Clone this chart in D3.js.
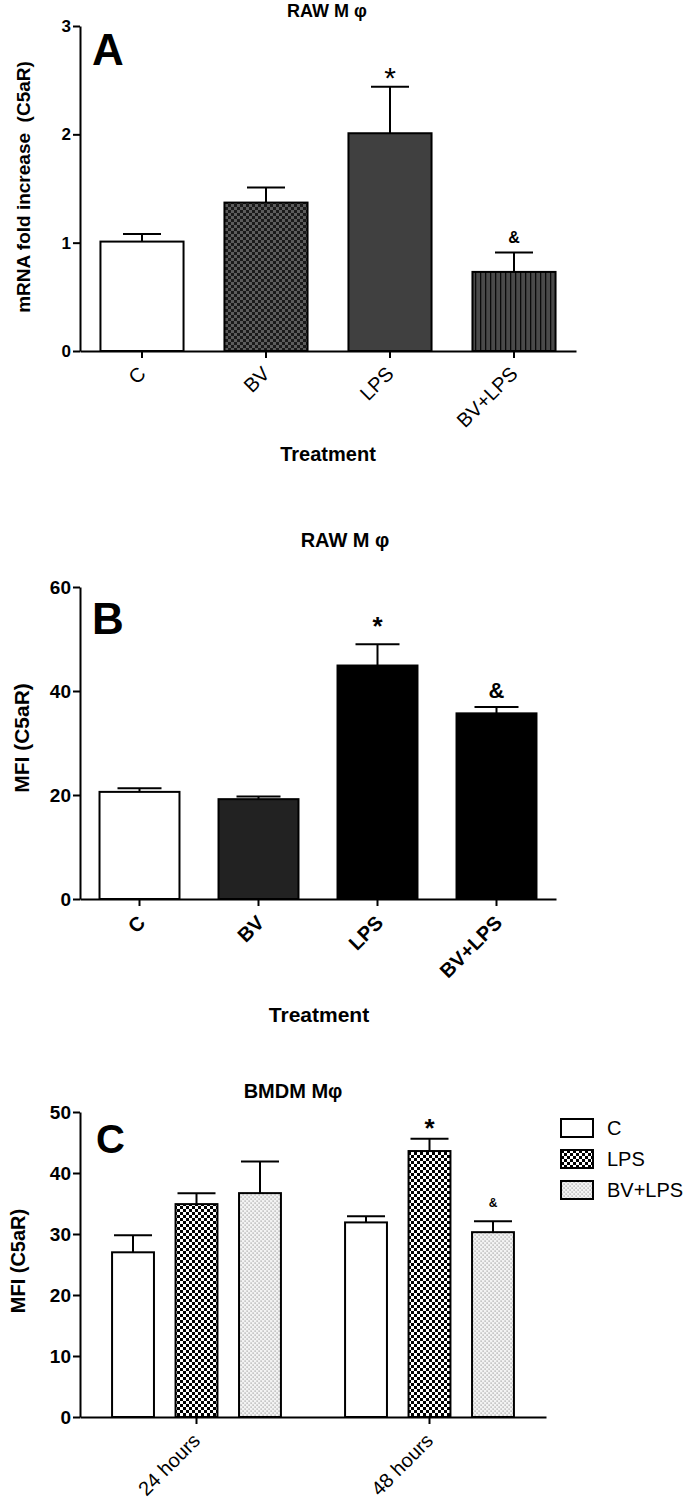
<!DOCTYPE html>
<html>
<head>
<meta charset="utf-8">
<script src="https://cdn.jsdelivr.net/npm/d3@7"></script>
<style>
  body { margin: 0; background: #fff; }
  svg { display: block; font-family: "Liberation Sans", Arial, sans-serif; }
  .domain, .tick line { stroke: #000; stroke-width: 2; }
</style>
</head>
<body>
<svg id="chart"></svg>
<script>
// DATA
const treatments = ["C", "BV", "LPS", "BV+LPS"];
const mrnaMean = [1.01, 1.37, 2.01, 0.73];
const mrnaSem = [0.07, 0.14, 0.43, 0.18];
const mrnaTicks = [0, 1, 2, 3];

const mfiMean = [20.6, 19.2, 44.9, 35.7];
const mfiSem = [0.7, 0.5, 4.1, 1.2];
const mfiTicks = [0, 20, 40, 60];

const timepoints = ["24 hours", "48 hours"];
const bmdmGroups = ["C", "LPS", "BV+LPS"];
const bmdm24Mean = [27.0, 34.9, 36.7];
const bmdm24Sem = [2.8, 1.8, 5.2];
const bmdm48Mean = [31.9, 43.6, 30.3];
const bmdm48Sem = [1.0, 2.0, 1.8];
const bmdmTicks = [0, 10, 20, 30, 40, 50];

// SET VARIABLES
const width = 689, height = 1508;
const svg = d3.select('#chart').attr('width', width).attr('height', height);
const defs = svg.append('defs');

// patterns
const pCheckDark = defs.append('pattern').attr('id', 'checkDark')
  .attr('width', 6).attr('height', 6).attr('patternUnits', 'userSpaceOnUse');
pCheckDark.append('rect').attr('width', 6).attr('height', 6).attr('fill', '#5c5c5c');
pCheckDark.append('rect').attr('width', 3).attr('height', 3).attr('fill', '#1a1a1a');
pCheckDark.append('rect').attr('x', 3).attr('y', 3).attr('width', 3).attr('height', 3).attr('fill', '#1a1a1a');

const pStripe = defs.append('pattern').attr('id', 'stripe')
  .attr('width', 5).attr('height', 5).attr('patternUnits', 'userSpaceOnUse');
pStripe.append('rect').attr('width', 5).attr('height', 5).attr('fill', '#4a4a4a');
pStripe.append('rect').attr('width', 1.3).attr('height', 5).attr('fill', '#0a0a0a');

const pCheck = defs.append('pattern').attr('id', 'checkBW')
  .attr('width', 6).attr('height', 6).attr('patternUnits', 'userSpaceOnUse');
pCheck.append('rect').attr('width', 6).attr('height', 6).attr('fill', '#fff');
pCheck.append('rect').attr('width', 3).attr('height', 3).attr('fill', '#000');
pCheck.append('rect').attr('x', 3).attr('y', 3).attr('width', 3).attr('height', 3).attr('fill', '#000');

const pDots = defs.append('pattern').attr('id', 'dots')
  .attr('width', 4).attr('height', 4).attr('patternUnits', 'userSpaceOnUse');
pDots.append('rect').attr('width', 4).attr('height', 4).attr('fill', '#f3f3f3');
pDots.append('rect').attr('x', 0.5).attr('y', 0.5).attr('width', 1.2).attr('height', 1.2).attr('fill', '#9a9a9a');
pDots.append('rect').attr('x', 2.5).attr('y', 2.5).attr('width', 1.2).attr('height', 1.2).attr('fill', '#9a9a9a');

// helper: y axis
function drawYAxis(y, ticks, fontSize) {
  const g = svg.append('g').attr('transform', 'translate(80,0)')
    .call(d3.axisLeft(y).tickValues(ticks).tickFormat(d3.format('d')).tickSize(7).tickSizeOuter(0).tickPadding(2));
  g.selectAll('text').attr('font-size', fontSize).attr('font-weight', 'bold')
    .attr('fill', '#000').attr('font-family', '"Liberation Sans", Arial, sans-serif');
  return g;
}
function drawXAxis(x, y0, fontSize, weight, dx, dy) {
  const g = svg.append('g').attr('transform', `translate(0,${y0})`)
    .call(d3.axisBottom(x).tickSize(7).tickSizeOuter(0));
  g.selectAll('text')
    .attr('font-size', fontSize).attr('font-weight', weight).attr('fill', '#000')
    .attr('font-family', '"Liberation Sans", Arial, sans-serif')
    .attr('text-anchor', 'end').attr('dy', '0.35em')
    .attr('transform', `translate(${dx},${dy}) rotate(-45)`)
    .attr('y', 0).attr('x', 0);
  return g;
}
function errBar(cx, yMean, yTop, capW, sw) {
  svg.append('line').attr('x1', cx).attr('x2', cx).attr('y1', yMean).attr('y2', yTop)
    .attr('stroke', '#000').attr('stroke-width', sw);
  svg.append('line').attr('x1', cx - capW / 2).attr('x2', cx + capW / 2).attr('y1', yTop).attr('y2', yTop)
    .attr('stroke', '#000').attr('stroke-width', sw);
}
function addText(x, y, txt, size, weight, anchor) {
  return svg.append('text').attr('x', x).attr('y', y).text(txt)
    .attr('font-size', size).attr('font-weight', weight || 'normal')
    .attr('text-anchor', anchor || 'middle').attr('fill', '#000');
}
function yLabel(x, y, txt, size) {
  svg.append('text').attr('transform', `translate(${x},${y}) rotate(-90)`)
    .attr('text-anchor', 'middle').attr('dominant-baseline', 'central')
    .attr('font-size', size).attr('font-weight', 'bold').text(txt);
}

// PANEL A
const yA = d3.scaleLinear().domain([0, 3]).range([351, 26]);
const xA = d3.scaleBand().domain(treatments).range([80, 576]).paddingInner(0.33).paddingOuter(0.165);
const fillA = ['#fff', 'url(#checkDark)', '#404040', 'url(#stripe)'];

treatments.forEach((t, i) => {
  const cx = xA(t) + xA.bandwidth() / 2;
  errBar(cx, yA(mrnaMean[i]), yA(mrnaMean[i] + mrnaSem[i]), 38, 2);
});
svg.append('g').selectAll('rect').data(treatments).enter().append('rect')
  .attr('x', d => xA(d)).attr('width', xA.bandwidth())
  .attr('y', (d, i) => yA(mrnaMean[i])).attr('height', (d, i) => yA(0) - yA(mrnaMean[i]))
  .attr('fill', (d, i) => fillA[i]).attr('stroke', '#000').attr('stroke-width', 2);
drawXAxis(xA, yA(0), 20, 'normal', 0, 19);
drawYAxis(yA, mrnaTicks, 17);

addText(327, 17, 'RAW M φ', 18, 'bold');
addText(92, 65, 'A', 44, 'bold', 'start');
yLabel(23, 187, 'mRNA fold increase\u00a0\u00a0(C5aR)', 19);
addText(328, 461, 'Treatment', 20, 'bold');
addText(xA('LPS') + xA.bandwidth() / 2, yA(mrnaMean[2] + mrnaSem[2]) + 1, '*', 30);
addText(xA('BV+LPS') + xA.bandwidth() / 2, yA(mrnaMean[3] + mrnaSem[3]) - 9, '&', 16, 'bold');

// PANEL B
const yB = d3.scaleLinear().domain([0, 60]).range([899, 587]);
const xB = d3.scaleBand().domain(treatments).range([80, 556]).paddingInner(0.328).paddingOuter(0.164);
const fillB = ['#fff', '#222', '#000', '#000'];

treatments.forEach((t, i) => {
  const cx = xB(t) + xB.bandwidth() / 2;
  errBar(cx, yB(mfiMean[i]), yB(mfiMean[i] + mfiSem[i]), 44, 2);
});
svg.append('g').selectAll('rect').data(treatments).enter().append('rect')
  .attr('x', d => xB(d)).attr('width', xB.bandwidth())
  .attr('y', (d, i) => yB(mfiMean[i])).attr('height', (d, i) => yB(0) - yB(mfiMean[i]))
  .attr('fill', (d, i) => fillB[i]).attr('stroke', '#000').attr('stroke-width', 2);
drawXAxis(xB, yB(0), 20, 'bold', 2, 20);
drawYAxis(yB, mfiTicks, 19);

addText(345, 547, 'RAW M φ', 20, 'bold');
addText(92, 634, 'B', 44, 'bold', 'start');
yLabel(21, 738, 'MFI (C5aR)', 21);
addText(319, 1022, 'Treatment', 21, 'bold');
addText(xB('LPS') + xB.bandwidth() / 2, yB(mfiMean[2] + mfiSem[2]) - 9, '*', 26, 'bold');
addText(xB('BV+LPS') + xB.bandwidth() / 2, yB(mfiMean[3] + mfiSem[3]) - 9, '&', 22, 'bold');

// PANEL C
const yC = d3.scaleLinear().domain([0, 50]).range([1417, 1112]);
const x0 = d3.scaleBand().domain(timepoints).range([80, 546]);
const x1 = d3.scaleBand().domain(bmdmGroups).range([0, x0.bandwidth()]).paddingInner(0.34).paddingOuter(0.505);
const fillC = ['#fff', 'url(#checkBW)', 'url(#dots)'];
const bmdmMean = [bmdm24Mean, bmdm48Mean];
const bmdmSem = [bmdm24Sem, bmdm48Sem];

const cells = [];
timepoints.forEach((tp, gi) => {
  bmdmGroups.forEach((g, si) => {
    cells.push({ tp, g, si, mean: bmdmMean[gi][si], sem: bmdmSem[gi][si] });
  });
});
cells.forEach(d => {
  const cx = x0(d.tp) + x1(d.g) + x1.bandwidth() / 2;
  errBar(cx, yC(d.mean), yC(d.mean + d.sem), 38, 2);
});
svg.append('g').selectAll('rect').data(cells).enter().append('rect')
  .attr('x', d => x0(d.tp) + x1(d.g)).attr('width', x1.bandwidth())
  .attr('y', d => yC(d.mean)).attr('height', d => yC(0) - yC(d.mean))
  .attr('fill', d => fillC[d.si]).attr('stroke', '#000').attr('stroke-width', 2);
drawXAxis(x0, yC(0), 20, 'normal', 0, 20);
drawYAxis(yC, bmdmTicks, 19);

addText(293, 1098, 'BMDM  Mφ', 20, 'bold');
addText(96, 1153, 'C', 40, 'bold', 'start');
yLabel(18, 1261, 'MFI (C5aR)', 20);
const lps48 = cells[4], bvlps48 = cells[5];
addText(x0('48 hours') + x1('LPS') + x1.bandwidth() / 2, yC(lps48.mean + lps48.sem) - 2, '*', 26, 'bold');
addText(x0('48 hours') + x1('BV+LPS') + x1.bandwidth() / 2, yC(bvlps48.mean + bvlps48.sem) - 14, '&', 12, 'bold');

// legend
const legend = svg.append('g').attr('transform', 'translate(561,1119)');
bmdmGroups.forEach((g, i) => {
  const row = legend.append('g').attr('transform', `translate(0,${i * 31})`);
  row.append('rect').attr('width', 32).attr('height', 18)
    .attr('fill', fillC[i]).attr('stroke', '#000').attr('stroke-width', 2);
  row.append('text').attr('x', 46).attr('y', 9).attr('dominant-baseline', 'central')
    .attr('font-size', 20).text(g);
});
</script>
</body>
</html>
